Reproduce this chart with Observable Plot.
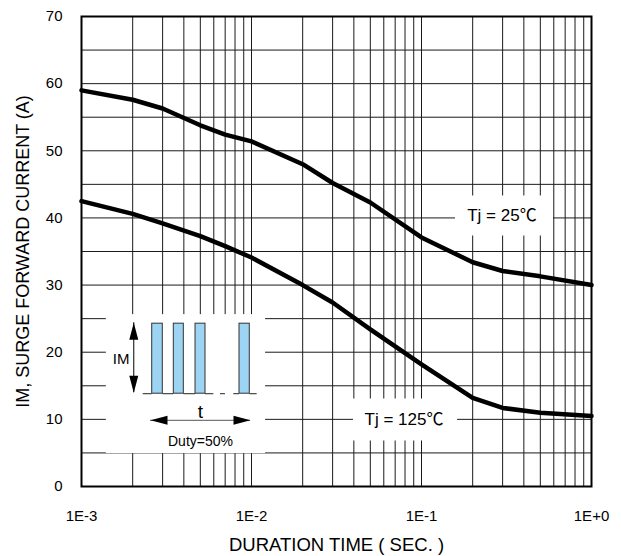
<!DOCTYPE html>
<html><head><meta charset="utf-8">
<script src="https://cdn.jsdelivr.net/npm/d3@7"></script>
<script src="https://cdn.jsdelivr.net/npm/@observablehq/plot@0.6"></script>
<style>
body{margin:0;background:#fff}
svg{font-family:"Liberation Sans",Arial,sans-serif}
</style>
</head><body><div id="chart"></div>
<script>
// Data
const durations = [0.001, 0.002, 0.003, 0.005, 0.007, 0.01, 0.02, 0.03, 0.05, 0.1, 0.2, 0.3, 0.5, 1];
const tj25  = [59.0, 57.6, 56.3, 53.8, 52.4, 51.4, 48.0, 45.2, 42.3, 37.1, 33.4, 32.1, 31.3, 30.0];
const tj125 = [42.5, 40.6, 39.2, 37.3, 35.8, 34.1, 30.0, 27.4, 23.4, 18.2, 13.2, 11.7, 11.0, 10.5];
const seriesNames = ["Tj = 25℃", "Tj = 125℃"];

const xTickValues = [1e-3, 1e-2, 1e-1, 1];
const xTickLabels = ["1E-3", "1E-2", "1E-1", "1E+0"];
const yTickValues = [0, 10, 20, 30, 40, 50, 60, 70];
const xTitle = "DURATION TIME ( SEC. )";
const yTitle = "IM, SURGE FORWARD CURRENT (A)";

// Inset (duty-cycle sketch) annotation, in data units
const insetBox = [{x1: 1.40e-3, x2: 1.21e-2, y1: 4.9, y2: 25.6}];
const pulseStarts = [2.606e-3, 3.491e-3, 4.685e-3, 8.50e-3];
const pulseEnds   = [3.008e-3, 3.998e-3, 5.363e-3, 9.77e-3];
const pulseTop = 24.25, pulseBase = 13.82;
const baseStarts = [2.306e-3, 3.008e-3, 3.998e-3, 5.363e-3, 6.57e-3, 7.87e-3, 9.77e-3];
const baseEnds   = [2.606e-3, 3.491e-3, 4.685e-3, 6.003e-3, 7.03e-3, 8.50e-3, 1.08e-2];
const imArrowX = 2.03e-3, imArrowTop = 24.4, imArrowBottom = 13.97;
const tArrowLeft = 2.547e-3, tArrowRight = 9.865e-3, tArrowY = 9.86;
const insetTexts = [
  {x: 1.712e-3, y: 19.0, text: "IM", size: 15},
  {x: 5.01e-3, y: 11.1, text: "t", size: 19},
  {x: 5.01e-3, y: 6.7, text: "Duty=50%", size: 14}
];
// Series label boxes
const labelBoxes = [
  {x1: 0.1585, x2: 0.5976, y1: 37.31, y2: 43.27},
  {x1: 0.0398, x2: 0.163, y1: 6.78, y2: 13.03}
];
const labelPos = [{x: 0.1857, y: 40.35}, {x: 0.04624, y: 9.92}];

// build tables
const rows = [];
durations.forEach((d, i) => {
  rows.push({x: d, y: tj25[i], s: seriesNames[0]});
  rows.push({x: d, y: tj125[i], s: seriesNames[1]});
});
const gridX = [];
for (let k = -3; k <= -1; k++) for (let m = 1; m <= 9; m++) gridX.push(m * Math.pow(10, k));
gridX.push(1);
const gridY = d3.range(0, 71, 5);
const pulses = pulseStarts.map((s, i) => ({x1: s, x2: pulseEnds[i], y1: pulseBase, y2: pulseTop}));
const baseSegs = baseStarts.map((s, i) => ({x1: s, x2: baseEnds[i], y: pulseBase}));
const heads = [
  {x: imArrowX, y: imArrowTop, r: 0},
  {x: imArrowX, y: imArrowBottom, r: 180},
  {x: tArrowLeft, y: tArrowY, r: -90},
  {x: tArrowRight, y: tArrowY, r: 90}
];
const arrowHead = {draw(ctx) { ctx.moveTo(0, 0); ctx.lineTo(4.5, 17); ctx.lineTo(-4.5, 17); ctx.closePath(); }};
const labels = labelPos.map((p, i) => ({...p, text: seriesNames[i]}));
const labelFont = "'Liberation Sans', 'Noto Sans CJK SC', sans-serif";

const chart = Plot.plot({
  width: 621, height: 556,
  marginLeft: 81, marginRight: 30, marginTop: 16, marginBottom: 70,
  style: {background: "#fff", fontFamily: "'Liberation Sans', Arial, sans-serif", color: "#000"},
  x: {type: "log", domain: [1e-3, 1]},
  y: {domain: [0, 70]},
  marks: [
    Plot.ruleX(gridX, {stroke: "#1a1a1a", strokeWidth: 1}),
    Plot.ruleY(gridY, {stroke: "#1a1a1a", strokeWidth: 1}),
    // white backgrounds
    Plot.rect(insetBox, {x1: "x1", x2: "x2", y1: "y1", y2: "y2", fill: "#fff"}),
    Plot.rect(labelBoxes, {x1: "x1", x2: "x2", y1: "y1", y2: "y2", fill: "#fff"}),
    // inset sketch
    Plot.ruleY(baseSegs, {y: "y", x1: "x1", x2: "x2", stroke: "#222", strokeWidth: 1}),
    Plot.rect(pulses, {x1: "x1", x2: "x2", y1: "y1", y2: "y2", fill: "#9dd3f3", stroke: "#333", strokeWidth: 1}),
    Plot.ruleX([imArrowX], {y1: imArrowBottom, y2: imArrowTop, stroke: "#000", strokeWidth: 1}),
    Plot.ruleY([tArrowY], {x1: tArrowLeft, x2: tArrowRight, stroke: "#555", strokeWidth: 1}),
    Plot.dot(heads, {x: "x", y: "y", rotate: "r", symbol: arrowHead, fill: "#000", stroke: "none"}),
    Plot.text(insetTexts, {x: "x", y: "y", text: "text", fontSize: "size", fill: "#000"}),
    // curves
    Plot.line(rows, {x: "x", y: "y", z: "s", stroke: "#000", strokeWidth: 4.5, curve: "linear", strokeLinejoin: "round"}),
    // series labels
    Plot.text(labels, {x: "x", y: "y", text: "text", textAnchor: "start", fontSize: 17, fill: "#000", fontFamily: labelFont}),
    Plot.frame({stroke: "#000", strokeWidth: 2}),
    Plot.axisX({ticks: xTickValues, tickFormat: (d) => xTickLabels[xTickValues.indexOf(d)], tickSize: 0, tickPadding: 24, fontSize: 15, label: null}),
    Plot.axisY({ticks: yTickValues, tickSize: 0, tickPadding: 19, fontSize: 15, label: null}),
    Plot.text([xTitle], {frameAnchor: "bottom", dy: 59, lineAnchor: "middle", textAnchor: "middle", fontSize: 18.5, fill: "#000"}),
    Plot.text([yTitle], {frameAnchor: "left", dx: -58, rotate: -90, textAnchor: "middle", lineAnchor: "middle", fontSize: 18, fill: "#000"})
  ]
});
document.getElementById("chart").append(chart);
</script>
</body></html>
